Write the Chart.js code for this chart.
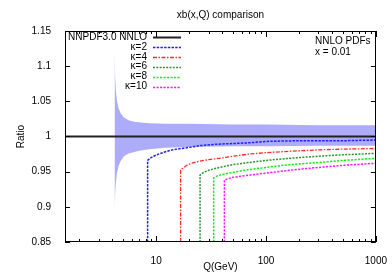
<!DOCTYPE html>
<html><head><meta charset="utf-8">
<script src="https://cdn.jsdelivr.net/npm/chart.js@4"></script>
<style>html,body{margin:0;padding:0;background:#fff}#wrap{width:392px;height:274px;position:relative}</style>
</head><body><div id="wrap"><canvas id="c" width="392" height="274"></canvas></div>
<script>
const chartTitle = 'xb(x,Q) comparison';
const xAxisTitle = 'Q(GeV)';
const yAxisTitle = 'Ratio';
const infoLines = ['NNLO PDFs', 'x = 0.01'];
const xRange = [1.48, 1000];
const yRange = [0.85, 1.15];
const xTickValues = [10, 100, 1000];
const xTickLabels = ['10', '100', '1000'];
const yTickValues = [0.85, 0.9, 0.95, 1, 1.05, 1.1, 1.15];
const yTickLabels = ['0.85', '0.9', '0.95', '1', '1.05', '1.1', '1.15'];

const seriesLabels = ['NNPDF3.0 NNLO', 'κ=2', 'κ=4', 'κ=6', 'κ=8', 'κ=10'];

const refQ = [1.48, 1000];
const refRatio = [1, 1];

const bandQ =     [4.18, 4.22, 4.3, 4.4, 4.55, 4.75, 5.1, 5.6, 6.3, 7.2, 8.7, 12, 20, 50, 100, 300, 1000];
const bandUpper = [1.125, 1.09, 1.065, 1.05, 1.04, 1.033, 1.027, 1.023, 1.021, 1.020, 1.019, 1.018, 1.018, 1.017, 1.017, 1.016, 1.016];
const bandLower = [0.897, 0.915, 0.935, 0.948, 0.958, 0.965, 0.972, 0.976, 0.978, 0.980, 0.982, 0.984, 0.985, 0.986, 0.986, 0.987, 0.987];

const k2Q = [8.36, 8.36, 8.8, 9.5, 10.5, 12, 14, 17, 21, 25, 35, 50, 70, 100, 200, 500, 1000];
const k2R = [0.85, 0.966, 0.969, 0.972, 0.975, 0.978, 0.981, 0.983, 0.985, 0.987, 0.989, 0.990, 0.991, 0.993, 0.994, 0.994, 0.995];
const k4Q = [16.7, 16.7, 17.5, 19, 21, 25, 30, 37.5, 50, 70, 100, 163, 300, 500, 1000];
const k4R = [0.85, 0.952, 0.955, 0.959, 0.962, 0.965, 0.967, 0.969, 0.972, 0.975, 0.977, 0.979, 0.981, 0.982, 0.983];
const k6Q = [25.1, 25.1, 27, 30, 37.5, 50, 70, 100, 163, 300, 500, 1000];
const k6R = [0.85, 0.945, 0.949, 0.952, 0.956, 0.960, 0.963, 0.966, 0.969, 0.972, 0.974, 0.976];
const k8Q = [33.4, 33.4, 36, 40, 50, 70, 100, 163, 300, 500, 1000];
const k8R = [0.85, 0.941, 0.944, 0.946, 0.949, 0.953, 0.956, 0.960, 0.963, 0.966, 0.969];
const k10Q = [41.8, 41.8, 45, 50, 70, 100, 163, 300, 500, 1000];
const k10R = [0.85, 0.938, 0.940, 0.942, 0.945, 0.948, 0.952, 0.956, 0.959, 0.962];

const pts = (xs, ys) => xs.map((x, i) => ({x: x, y: ys[i]}));
const FONT = "'Liberation Sans', Arial, sans-serif";

function curve(label, xs, ys, color, dash, width) {
  return {label: label, data: pts(xs, ys), borderColor: color, borderDash: dash, borderWidth: width,
          pointRadius: 0, fill: false, tension: 0, order: 1, clip: 0, showInLegend: true};
}

const datasets = [
  {label: '', data: pts(bandQ, bandUpper), borderWidth: 0, borderColor: 'rgba(0,0,0,0)', backgroundColor: '#acacfb', pointRadius: 0, fill: '+1', tension: 0, order: 10, clip: 0},
  {label: '', data: pts(bandQ, bandLower), borderWidth: 0, borderColor: 'rgba(0,0,0,0)', pointRadius: 0, fill: false, tension: 0, order: 10, clip: 0},
  {label: seriesLabels[0], data: pts(refQ, refRatio), borderColor: '#222222', borderWidth: 2, borderDash: [], pointRadius: 0, fill: false, order: 5, clip: 0, showInLegend: true},
  curve(seriesLabels[1], k2Q, k2R, '#2020ff', [2.5, 1.2], 1.5),
  curve(seriesLabels[2], k4Q, k4R, '#ff2a2a', [4, 1.5, 1.5, 1.5], 1.3),
  curve(seriesLabels[3], k6Q, k6R, '#2e952e', [2, 1.3], 1.5),
  curve(seriesLabels[4], k8Q, k8R, '#14ee14', [2.2, 1.3], 1.5),
  curve(seriesLabels[5], k10Q, k10R, '#ff18ff', [2.2, 1.3], 1.5)
];

const decor = {
  id: 'decor',
  afterDraw(chart) {
    const ctx = chart.ctx, a = chart.chartArea;
    const xs = chart.scales.x, ys = chart.scales.y;
    ctx.save();
    ctx.strokeStyle = '#000'; ctx.lineWidth = 1; ctx.setLineDash([]);
    ctx.strokeRect(Math.round(a.left) + 0.5, Math.round(a.top) + 0.5, Math.round(a.right - a.left) - 1, Math.round(a.bottom - a.top) - 1);
    ctx.beginPath();
    yTickValues.forEach(v => {
      const y = Math.round(ys.getPixelForValue(v)) + 0.5;
      ctx.moveTo(a.left, y); ctx.lineTo(a.left + 5, y);
      ctx.moveTo(a.right, y); ctx.lineTo(a.right - 5, y);
    });
    for (let dec = 1; dec <= 1000; dec *= 10) {
      for (let m = 1; m <= 9; m++) {
        const q = dec * m;
        if (q < xRange[0] || q > xRange[1]) continue;
        const x = Math.round(xs.getPixelForValue(q)) + 0.5;
        const len = m === 1 ? 6 : 3;
        ctx.moveTo(x, a.bottom); ctx.lineTo(x, a.bottom - len);
        ctx.moveTo(x, a.top); ctx.lineTo(x, a.top + len);
      }
    }
    ctx.stroke();
    ctx.fillStyle = '#000';
    ctx.font = '10px ' + FONT;
    ctx.textAlign = 'center'; ctx.textBaseline = 'middle';
    ctx.fillText(chartTitle, (a.left + a.right) / 2, 15);
    ctx.textAlign = 'left';
    infoLines.forEach((t, i) => ctx.fillText(t, a.left + 250, a.top + 10 + i * 11));
    let row = 0;
    chart.data.datasets.forEach(ds => {
      if (!ds.showInLegend) return;
      const y = a.top + 6 + row * 9.9;
      ctx.fillStyle = '#000';
      ctx.textAlign = 'right';
      ctx.fillText(ds.label, a.left + 82, y);
      ctx.beginPath();
      ctx.strokeStyle = ds.borderColor; ctx.lineWidth = ds.borderWidth;
      ctx.setLineDash(ds.borderDash || []);
      ctx.moveTo(a.left + 88, Math.round(y) + 0.5); ctx.lineTo(a.left + 116, Math.round(y) + 0.5);
      ctx.stroke();
      row++;
    });
    ctx.restore();
  }
};

new Chart(document.getElementById('c'), {
  type: 'line',
  data: {datasets: datasets},
  plugins: [decor],
  options: {
    responsive: false, animation: false, devicePixelRatio: 1,
    layout: {padding: {left: 0, right: 15, top: 31, bottom: 0}},
    plugins: {legend: {display: false}, title: {display: false}, tooltip: {enabled: false}},
    scales: {
      x: {
        type: 'logarithmic', min: xRange[0], max: xRange[1],
        grid: {display: false}, border: {display: false},
        afterBuildTicks: s => { s.ticks = xTickValues.map(v => ({value: v, major: true})); },
        afterFit: s => { s.height = 32; },
        ticks: {autoSkip: false, maxRotation: 0, padding: 5, color: '#000', font: {size: 10, family: FONT},
                callback: (v, i) => xTickLabels[i]},
        title: {display: true, text: xAxisTitle, color: '#000', font: {size: 10, family: FONT}, padding: {top: 0, bottom: 1}}
      },
      y: {
        type: 'linear', min: yRange[0], max: yRange[1],
        grid: {display: false}, border: {display: false},
        afterBuildTicks: s => { s.ticks = yTickValues.map(v => ({value: v})); },
        afterFit: s => { s.width = 65; },
        ticks: {autoSkip: false, padding: 6, color: '#000', font: {size: 10, family: FONT},
                callback: (v, i) => yTickLabels[i]},
        title: {display: true, text: yAxisTitle, color: '#000', font: {size: 10, family: FONT}, padding: {top: 15, bottom: 0}}
      }
    }
  }
});
</script></body></html>
